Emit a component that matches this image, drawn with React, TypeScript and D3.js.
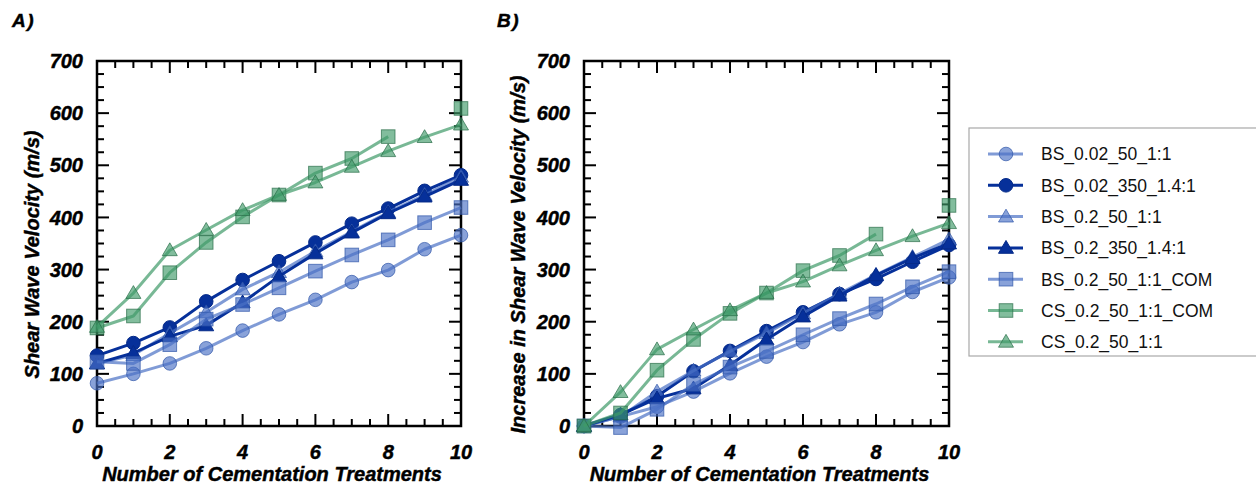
import React from "react";
import * as d3 from "d3";

// Cementation treatment counts (x axis)
const treatments = [0, 1, 2, 3, 4, 5, 6, 7, 8, 9, 10];

// Legend labels
const seriesLabels = [
  "BS_0.02_50_1:1",
  "BS_0.02_350_1.4:1",
  "BS_0.2_50_1:1",
  "BS_0.2_350_1.4:1",
  "BS_0.2_50_1:1_COM",
  "CS_0.2_50_1:1_COM",
  "CS_0.2_50_1:1",
];

// Panel A: shear wave velocity (m/s)
const vsBS002_50 = [82, 100, 120, 149, 183, 214, 242, 276, 299, 339, 366];
const vsBS002_350 = [135, 159, 189, 239, 280, 316, 352, 388, 417, 451, 481];
const vsBS02_50 = [120, 136, 178, 218, 262, 295, 335, 373, 410, 443, 478];
const vsBS02_350 = [120, 140, 172, 193, 237, 287, 331, 371, 408, 440, 472];
const vsBS02_50COM = [123, 120, 156, 205, 233, 265, 297, 328, 357, 390, 419];
const vsCS02_50COM = [188, 211, 294, 352, 401, 443, 485, 513, 555, null, 609];
const vsCS02_50 = [190, 255, 337, 376, 414, 443, 467, 497, 527, 554, 578];

// Panel B: increase in shear wave velocity (m/s)
const dvBS002_50 = [0, 18, 37, 66, 101, 133, 161, 195, 218, 257, 285];
const dvBS002_350 = [0, 21, 57, 105, 144, 182, 218, 253, 282, 315, 347];
const dvBS02_50 = [0, 18, 66, 106, 143, 178, 216, 254, 290, 324, 358];
const dvBS02_350 = [0, 22, 53, 72, 117, 166, 210, 250, 289, 322, 350];
const dvBS02_50COM = [0, -3, 32, 80, 113, 143, 175, 206, 234, 267, 296];
const dvCS02_50COM = [0, 25, 107, 166, 216, 255, 298, 327, 368, null, 423];
const dvCS02_50 = [0, 65, 147, 185, 222, 255, 277, 308, 337, 364, 389];

const yTickValues = [0, 100, 200, 300, 400, 500, 600, 700];
const xTickValues = [0, 2, 4, 6, 8, 10];

type Shape = "circle" | "triangle" | "square";
type Style = {
  line: string;
  lineOpacity: number;
  fill: string;
  fillOpacity: number;
  stroke: string;
  strokeOpacity: number;
};

const LIGHT: Style = {
  line: "#4a70c4",
  lineOpacity: 0.7,
  fill: "#4a70c4",
  fillOpacity: 0.65,
  stroke: "#2f56a8",
  strokeOpacity: 0.7,
};
const DARK: Style = {
  line: "#06309a",
  lineOpacity: 1,
  fill: "#06309a",
  fillOpacity: 1,
  stroke: "#052a88",
  strokeOpacity: 1,
};
const GREEN: Style = {
  line: "#3f9a68",
  lineOpacity: 0.7,
  fill: "#3f9a68",
  fillOpacity: 0.65,
  stroke: "#2a6e48",
  strokeOpacity: 0.7,
};

const seriesStyles: Style[] = [LIGHT, DARK, LIGHT, DARK, LIGHT, GREEN, GREEN];
const seriesShapes: Shape[] = ["circle", "circle", "triangle", "triangle", "square", "square", "triangle"];

const panelAValues = [vsBS002_50, vsBS002_350, vsBS02_50, vsBS02_350, vsBS02_50COM, vsCS02_50COM, vsCS02_50];
const panelBValues = [dvBS002_50, dvBS002_350, dvBS02_50, dvBS02_350, dvBS02_50COM, dvCS02_50COM, dvCS02_50];

const FONT = "'Liberation Sans', Arial, Helvetica, sans-serif";
// heavy bold italic used for ticks and titles
const heavy = {
  fontFamily: FONT,
  fontWeight: "bold" as const,
  fontStyle: "italic" as const,
  stroke: "#000",
  strokeWidth: 0.45,
  fill: "#000",
};

function Marker({ shape, x, y, style }: { shape: Shape; x: number; y: number; style: Style }) {
  const common = {
    fill: style.fill,
    fillOpacity: style.fillOpacity,
    stroke: style.stroke,
    strokeOpacity: style.strokeOpacity,
    strokeWidth: 1,
  };
  if (shape === "circle") return <circle cx={x} cy={y} r={6.8} {...common} />;
  if (shape === "square") return <rect x={x - 6.8} y={y - 6.8} width={13.6} height={13.6} {...common} />;
  const h = 12;
  const w = 7.5;
  return <path d={`M${x},${y - h * 0.62}L${x + w},${y + h * 0.45}L${x - w},${y + h * 0.45}Z`} {...common} />;
}

function Panel({
  left,
  right,
  top,
  bottom,
  values,
  yTitle,
  yTitleX,
  tag,
  tagX,
}: {
  left: number;
  right: number;
  top: number;
  bottom: number;
  values: (number | null)[][];
  yTitle: string;
  yTitleX: number;
  tag: string;
  tagX: number;
}) {
  const x = d3.scaleLinear().domain([0, 10]).range([left, right]);
  const y = d3.scaleLinear().domain([0, 700]).range([bottom, top]);
  const minorY = d3.range(0, 701, 25);
  const minorX = d3.range(0, 10.001, 0.5);
  const line = d3
    .line<number | null>()
    .defined((d) => d !== null)
    .x((_, i) => x(treatments[i]))
    .y((d) => y(d as number));

  return (
    <g>
      <text x={tagX} y={27} {...heavy} fontSize={19} letterSpacing={1.5}>
        {tag}
      </text>
      {/* inward ticks on all four sides */}
      {minorY.map((v) => {
        const len = v % 100 === 0 ? 12 : 7;
        return (
          <g key={"y" + v} stroke="#000" strokeWidth={2}>
            <line x1={left} x2={left + len} y1={y(v)} y2={y(v)} />
            <line x1={right} x2={right - len} y1={y(v)} y2={y(v)} />
          </g>
        );
      })}
      {minorX.map((v) => {
        const len = v % 2 === 0 ? 12 : 7;
        return (
          <g key={"x" + v} stroke="#000" strokeWidth={2}>
            <line x1={x(v)} x2={x(v)} y1={bottom} y2={bottom - len} />
            <line x1={x(v)} x2={x(v)} y1={top} y2={top + len} />
          </g>
        );
      })}
      <rect x={left} y={top} width={right - left} height={bottom - top} fill="none" stroke="#000" strokeWidth={2.5} />
      {yTickValues.map((v) => (
        <text key={"yl" + v} x={left - 14} y={y(v)} dy="0.36em" textAnchor="end" {...heavy} fontSize={20}>
          {v}
        </text>
      ))}
      {xTickValues.map((v) => (
        <text key={"xl" + v} x={x(v)} y={bottom + 26} dy="0.36em" textAnchor="middle" {...heavy} fontSize={20}>
          {v}
        </text>
      ))}
      <text
        x={(left + right) / 2 - 7}
        y={bottom + 48}
        dy="0.36em"
        textAnchor="middle"
        {...heavy}
        fontSize={20}
      >
        Number of Cementation Treatments
      </text>
      <text
        transform={`translate(${yTitleX},${(top + bottom) / 2 + 11}) rotate(-90)`}
        dy="0.36em"
        textAnchor="middle"
        {...heavy}
        fontSize={20}
      >
        {yTitle}
      </text>
      {values.map((vals, si) => {
        const st = seriesStyles[si];
        return (
          <g key={"s" + si}>
            <path
              d={line(vals) || ""}
              fill="none"
              stroke={st.line}
              strokeOpacity={st.lineOpacity}
              strokeWidth={3}
              strokeLinejoin="round"
            />
            {vals.map((v, i) =>
              v === null ? null : (
                <Marker key={i} shape={seriesShapes[si]} x={x(treatments[i])} y={y(v)} style={st} />
              )
            )}
          </g>
        );
      })}
    </g>
  );
}

function Legend({ left, top }: { left: number; top: number }) {
  const rowGap = 31.3;
  return (
    <g>
      <rect x={left} y={top} width={320} height={228} fill="#fff" stroke="#a8a8a8" strokeWidth={1.2} />
      {seriesLabels.map((label, i) => {
        const cy = top + 26 + i * rowGap;
        const st = seriesStyles[i];
        return (
          <g key={label}>
            <line
              x1={left + 19}
              x2={left + 54}
              y1={cy}
              y2={cy}
              stroke={st.line}
              strokeOpacity={st.lineOpacity}
              strokeWidth={3}
            />
            <Marker shape={seriesShapes[i]} x={left + 37} y={cy} style={st} />
            <text x={left + 72} y={cy} dy="0.36em" fontFamily={FONT} fontSize={17.5} fill="#111">
              {label}
            </text>
          </g>
        );
      })}
    </g>
  );
}

export default function App() {
  return (
    <svg
      width={1256}
      height={487}
      viewBox="0 0 1256 487"
      style={{ position: "absolute", left: 0, top: 0, background: "#fff" }}
    >
      <rect width={1256} height={487} fill="#fff" />
      <Panel
        left={97}
        right={461}
        top={61}
        bottom={426}
        values={panelAValues}
        yTitle="Shear Wave Velocity (m/s)"
        yTitleX={32}
        tag="A)"
        tagX={12}
      />
      <Panel
        left={584}
        right={949}
        top={61}
        bottom={426}
        values={panelBValues}
        yTitle="Increase in Shear Wave Velocity (m/s)"
        yTitleX={518}
        tag="B)"
        tagX={497}
      />
      <Legend left={969} top={128} />
    </svg>
  );
}
